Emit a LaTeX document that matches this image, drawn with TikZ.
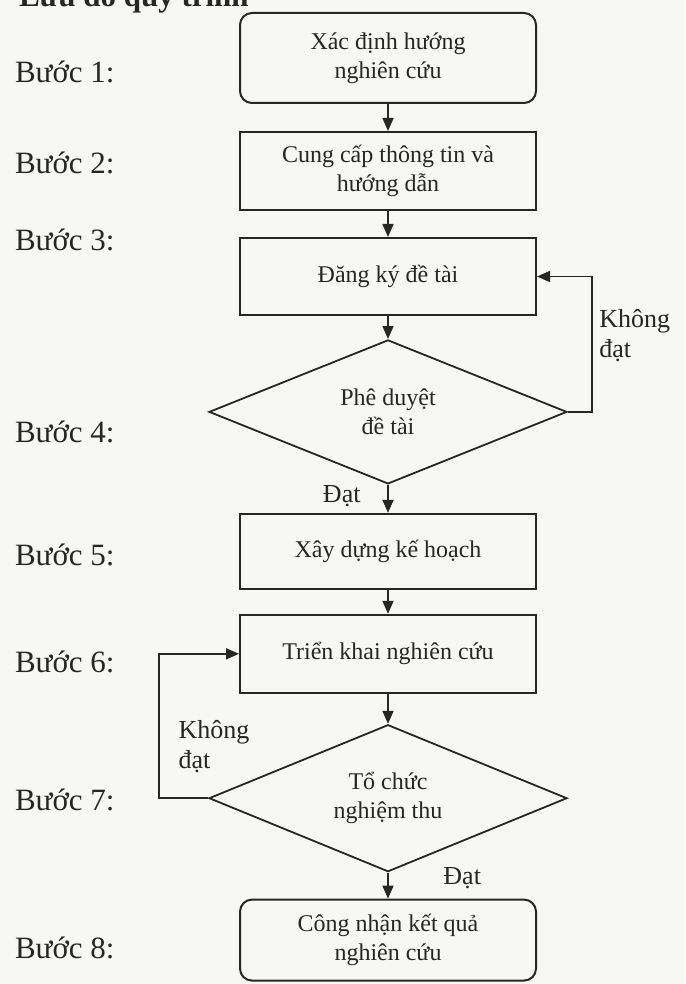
\documentclass[tikz,border=0pt]{standalone}
\usepackage{fontspec}
\setmainfont{Liberation Serif}
\usetikzlibrary{arrows.meta, positioning, shapes.geometric}
\definecolor{ink}{RGB}{38,38,38}
\definecolor{paper}{RGB}{247,247,245}

\begin{document}
\begin{tikzpicture}[
    x=0.5pt, y=-0.5pt,
    >={Triangle[width=5.5pt, length=6.5pt]},
    every node/.style={font=\fontsize{12}{14.5}\selectfont, text=ink},
    box/.style ={draw=ink, line width=1pt, align=center,
                 inner sep=3pt, minimum width=148pt, minimum height=39pt},
    term/.style={box, rounded corners=6pt},
    test/.style={draw=ink, diamond, aspect=2.5, line width=0.9pt, align=center,
                 inner sep=0pt, minimum width=179pt, minimum height=72pt},
    steplbl/.style={anchor=west, font=\fontsize{15.5}{18}\selectfont},
    note/.style={align=left, font=\fontsize{13}{15}\selectfont},
    heading/.style={anchor=base west, font=\fontsize{15.5}{18}\selectfont\bfseries},
    flow/.style={->, line width=0.8pt, draw=ink},
]
\clip (0,0) rectangle (685,984);
\fill[paper] (0,0) rectangle (685,984);
\node[heading] (ttl) at (12,7) {Lưu đồ quy trình};
\node[term, minimum height=45pt] (b1) at (388,58) {Xác định hướng\\ nghiên cứu};
\node[box,  below=13.5pt of b1]  (b2) {Cung cấp thông tin và\\ hướng dẫn};
\node[box,  below=13pt of b2, minimum height=38.5pt] (b3) {Đăng ký đề tài};
\node[test, below=11.5pt of b3]  (d4) {Phê duyệt\\ đề tài};
\node[box,  below=14pt of d4, minimum height=37.5pt] (b5) {Xây dựng kế hoạch};
\node[box,  below=12pt of b5]    (b6) {Triển khai nghiên cứu};
\node[test, below=15pt of b6, minimum height=73.5pt] (d7) {Tổ chức\\ nghiệm thu};
\node[term, below=13pt of d7, minimum height=40.5pt] (b8) {Công nhận kết quả\\ nghiên cứu};
% step labels down the left side
\node[steplbl] (s1) at (8,72)  {Bước 1:};
\node[steplbl] (s2) at (8,163) {Bước 2:};
\node[steplbl] (s3) at (8,240) {Bước 3:};
\node[steplbl] (s4) at (8,432) {Bước 4:};
\node[steplbl] (s5) at (8,555) {Bước 5:};
\node[steplbl] (s6) at (8,662) {Bước 6:};
\node[steplbl] (s7) at (8,800) {Bước 7:};
\node[steplbl] (s8) at (8,948) {Bước 8:};
\draw[flow] (b1) -- (b2);
\draw[flow] (b2) -- (b3);
\draw[flow] (b3) -- (d4);
\draw[flow] (d4) -- node[note, pos=0.4, left=10pt]{Đạt} (b5);
\draw[flow] (b5) -- (b6);
\draw[flow] (b6) -- (d7);
\draw[flow] (d7) -- node[note, pos=0.2, right=24pt]{Đạt} (b8);
% rejected: back to the previous step
\draw[flow] (d4.east) -- ++(24,0) |- node[note, pos=0.28, right]{Không\\ đạt} (b3.east);
\draw[flow] (d7.west) -- ++(-49,0) |- node[note, pos=0.18, right=6pt]{Không\\ đạt} (b6.west);
\end{tikzpicture}
\end{document}
